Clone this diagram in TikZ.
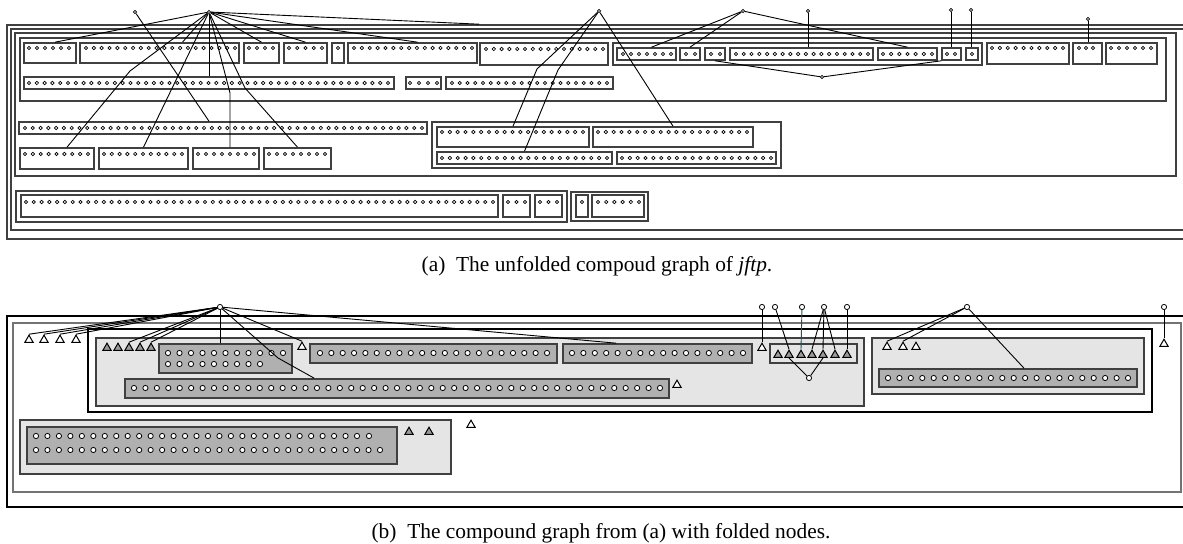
\documentclass[tikz,border=0pt]{standalone}
\usepackage{fontspec}
\setmainfont{Liberation Serif}
\usetikzlibrary{positioning, fit, calc, shapes.geometric}

\definecolor{edgeteal}{RGB}{20,90,90}

% a compound box, spanned by two corners
\newcommand{\grpbox}[6][]{%
  \node[grp, #1, fit={(#3,#4) (#5,#6)}] (#2) {};}
% a row of leaf vertices: name, first x, last x, y, count
\newcommand{\vrow}[6][]{%
  \pgfmathsetmacro{\vgap}{(#4-#3)/max(#6-1,1)}%
  \foreach \k in {1,...,#6}
    \node[vtx, #1] (#2-\k) at ({#3+\vgap*(\k-1)}, #5) {};}

\begin{document}
\begin{tikzpicture}[x=0.5pt, y=-0.5pt,
  grp/.style={draw=black!75, line width=0.8pt, inner sep=0pt},
  light/.style={fill=black!10},
  fold/.style={fill=black!31},
  vtx/.style={circle, draw, fill=white, line width=0.35pt, inner sep=0pt, minimum size=1.7pt},
  bvtx/.style={vtx, minimum size=2.6pt, line width=0.4pt},
  tri/.style={regular polygon, regular polygon sides=3, draw, fill=white,
              line width=0.5pt, inner sep=0pt, minimum size=4.8pt},
  ftri/.style={tri, fill=black!40},
  edge/.style={line width=0.45pt},
  captext/.style={font=\fontsize{10.7}{12}\selectfont},
]
\useasboundingbox (0,0) rectangle (1183,544);

%% (a) unfolded graph
\grpbox{B0}{7}{25}{1195}{239}
\grpbox{B1}{11}{29}{1195}{230}
\grpbox{B2}{15}{33}{1176}{176}
\grpbox{B3}{20}{38}{1166}{101}

% first row
\grpbox{a1}{24}{43}{76}{63}      \vrow{a1}{29}{69}{48}{6}
\grpbox{a2}{80}{43}{239}{63}     \vrow{a2}{86}{235}{48}{20}
\grpbox{a3}{244}{43}{279}{63}    \vrow{a3}{249}{273}{48}{4}
\grpbox{a4}{284}{43}{327}{63}    \vrow{a4}{289}{322}{48}{5}
\grpbox{a5}{332}{43}{344}{63}    \vrow{a5}{338}{338}{48}{1}
\grpbox{a6}{348}{43}{477}{63}    \vrow{a6}{354}{472}{48}{16}
\grpbox{a7}{480}{43}{608}{65}    \vrow{a7}{486}{603}{49}{16}
\grpbox{G1}{613}{43}{982}{65}
\grpbox{g1}{617}{48}{676}{60}    \vrow{g1}{623}{671}{54}{7}
\grpbox{g2}{680}{48}{700}{60}    \vrow{g2}{686}{695}{54}{2}
\grpbox{g3}{705}{48}{725}{60}    \vrow{g3}{711}{720}{54}{2}
\grpbox{g4}{730}{48}{873}{60}    \vrow{g4}{736}{868}{54}{18}
\grpbox{g5}{878}{48}{937}{60}    \vrow{g5}{883}{932}{54}{7}
\grpbox{g6}{942}{48}{961}{60}    \vrow{g6}{947}{955}{54}{2}
\grpbox{g7}{966}{48}{978}{60}    \vrow{g7}{972}{972}{54}{1}
\grpbox{a8}{987}{43}{1069}{64}   \vrow{a8}{992}{1063}{48}{10}
\grpbox{a9}{1073}{43}{1102}{64}  \vrow{a9}{1079}{1093}{48}{3}
\grpbox{a10}{1106}{43}{1157}{64} \vrow{a10}{1111}{1151}{48}{6}

% second row
\grpbox{r2a}{24}{77}{394}{89}    \vrow{r2a}{29}{388}{83}{47}
\grpbox{r2b}{406}{77}{441}{89}   \vrow{r2b}{410}{437}{83}{4}
\grpbox{r2c}{446}{77}{613}{89}   \vrow{r2c}{452}{607}{83}{21}

% middle rows
\grpbox{m1}{19}{122}{427}{134}   \vrow{m1}{25}{422}{128}{52}
\grpbox{m2a}{20}{148}{94}{169}   \vrow{m2a}{25}{88}{154}{9}
\grpbox{m2b}{99}{148}{188}{169}  \vrow{m2b}{104}{182}{154}{11}
\grpbox{m2c}{193}{148}{259}{169} \vrow{m2c}{198}{254}{154}{8}
\grpbox{m2d}{264}{148}{331}{169} \vrow{m2d}{269}{325}{154}{8}
\grpbox{G2}{432}{122}{781}{168}
\grpbox{G2a}{437}{127}{589}{147} \vrow{G2a}{442}{583}{132}{19}
\grpbox{G2b}{593}{127}{753}{147} \vrow{G2b}{598}{747}{132}{20}
\grpbox{G2c}{437}{152}{612}{164} \vrow{G2c}{442}{607}{158}{22}
\grpbox{G2d}{617}{152}{776}{164} \vrow{G2d}{622}{771}{158}{20}

% bottom row
\grpbox{G3}{16}{191}{567}{222}
\grpbox{G3a}{21}{195}{498}{217}  \vrow{G3a}{26}{493}{202}{61}
\grpbox{G3b}{503}{195}{530}{217} \vrow{G3b}{508}{525}{202}{3}
\grpbox{G3c}{535}{195}{562}{217} \vrow{G3c}{540}{557}{202}{3}
\grpbox{G4}{571}{192}{648}{221}
\grpbox{G4a}{576}{195}{588}{217} \vrow{G4a}{582}{582}{202}{1}
\grpbox{G4b}{592}{195}{644}{217} \vrow{G4b}{598}{639}{202}{6}

% outside vertices
\node[vtx] (A) at (209,12) {};
\node[vtx] (B) at (135,12) {};
\node[vtx] (C) at (599,11) {};
\node[vtx] (D) at (743,11) {};
\node[vtx] (E) at (808,11) {};
\node[vtx] (F) at (822,77) {};
\node[vtx] (G) at (951,10) {};
\node[vtx] (H) at (971,10) {};
\node[vtx] (I) at (1088,19) {};

\draw[edge] (A) -- ($(a1.north)+(5,0)$);
\draw[edge] (A) -- ($(a2.north)+(23,0)$);
\draw[edge] (A) -- (A |- r2a.north);
\draw[edge] (A) -- (a3.north);
\draw[edge] (A) -- (a4.north);
\draw[edge] (A) -- ($(a6.north)+(5,0)$);
\draw[edge] (A) -- (a7.north west |- B0.north);
\draw[edge] (A) -- (130,71) -- ($(m2a.north)+(10,0)$);
\draw[edge] (A) -- (m2b.north);
\draw[edge] (A) -- (230,93) -- ($(m2c.north)+(4,0)$);
\draw[edge] (A) -- (245,88) -- (m2d.north);
\draw[edge] (B) -- (A |- m1.north);
\draw[edge] (C) -- (537,69) -- (G2a.north);
\draw[edge] (C) -- (558,70) -- (G2c.north);
\draw[edge] (C) -- (G2b.north);
\draw[edge] (D) -- ($(g1.north)+(5,0)$);
\draw[edge] (D) -- (g2.north);
\draw[edge] (D) -- (g5.north);
\draw[edge] (E) -- (E |- g4.north);
\draw[edge] (F) -- (g3.south);
\draw[edge] (F) -- (g6.south west);
\draw[edge] (G) -- (G |- g6.north);
\draw[edge] (H) -- (H |- g7.north);
\draw[edge] (I) -- (I |- a9.north);

\node[captext] (capa) at (597,266) {(a)\enspace The unfolded compoud graph of \emph{jftp}.};

%% (b) folded graph
\grpbox[draw=black, line width=0.55pt]{P0}{7}{316}{1195}{507}
\grpbox[draw=black!55]{P1}{13}{323}{1181}{492}
\grpbox[draw=black, line width=0.55pt]{P2}{88}{329}{1152}{412}
\grpbox[light]{P3}{96}{338}{864}{406}
\grpbox[fold]{D1}{159}{344}{292}{373}
\vrow[bvtx]{D1r}{168}{283}{353}{11}
\vrow[bvtx]{D1s}{168}{260}{364}{9}
\grpbox[fold]{D2}{310}{344}{557}{363}  \vrow[bvtx]{D2}{320}{547}{353}{21}
\grpbox[fold]{D3}{563}{344}{752}{363}  \vrow[bvtx]{D3}{572}{743}{353}{16}
\grpbox[light]{L1}{770}{344}{857}{363}
\grpbox[fold]{D4}{125}{379}{669}{398}  \vrow[bvtx]{D4}{134}{660}{388}{47}
\grpbox[light]{P4}{872}{338}{1144}{394}
\grpbox[fold]{D5}{879}{369}{1137}{387} \vrow[bvtx]{D5}{888}{1128}{378}{22}
\grpbox[light]{P5}{20}{420}{451}{474}
\grpbox[fold]{D6}{27}{427}{397}{464}
\vrow[bvtx]{D6r}{36}{357}{436}{29}
\node[bvtx] (D6x) at (369,436) {};
\vrow[bvtx]{D6s}{36}{380}{450}{31}

% folded leaves
\foreach \n/\x in {1/29,2/44,3/60,4/76} \node[tri] (lt\n) at (\x,340) {};
\foreach \n/\x in {1/107,2/118,3/129,4/140,5/151} \node[ftri] (gt\n) at (\x,348) {};
\foreach \n/\x in {1/778,2/789,3/801,4/812,5/823,6/835,7/847} \node[ftri] (ft\n) at (\x,355) {};
\foreach \n/\x in {1/887,2/903,3/916} \node[tri] (rt\n) at (\x,347) {};
\node[tri] (ot1) at (302,347) {};
\node[tri] (ot2) at (762,348) {};
\node[tri] (ot3) at (677,385) {};
\node[tri] (ot4) at (1164,344) {};
\node[tri] (ot5) at (471,425) {};
\node[ftri] (pt1) at (409,432) {};
\node[ftri] (pt2) at (429,432) {};

% outside vertices
\node[bvtx] (V) at (220,307) {};
\node[bvtx] (V2) at (762,307) {};
\node[bvtx] (V3) at (775,307) {};
\node[bvtx] (V4) at (802,307) {};
\node[bvtx] (V5) at (824,307) {};
\node[bvtx] (V6) at (847,307) {};
\node[bvtx] (W) at (967,307) {};
\node[bvtx] (X) at (1164,307) {};
\node[bvtx] (F2) at (809,378) {};

\foreach \n in {1,...,4} \draw[edge] (V) -- (lt\n.north);
\foreach \n in {3,4,5} \draw[edge] (V) -- (gt\n.north);
\draw[edge] (V) -- (V |- D1.north);
\draw[edge] (V) -- (278,358) -- ($(D4.north west)+(190,0)$);
\draw[edge] (V) -- (ot1.north);
\draw[edge] (V) -- ($(D3.north west)+(54,0)$);
\draw[edge] (V2) -- (ot2.north);
\draw[edge] (V3) -- (ft2.north);
\draw[edge, edgeteal] (V4) -- (ft3.north);
\foreach \n in {4,5,6} \draw[edge] (V5) -- (ft\n.north);
\draw[edge] (V6) -- (ft7.north);
\draw[edge] (F2) -- (ft2.south);
\draw[edge] (F2) -- (ft5.south);
\draw[edge] (W) -- (rt1.north);
\draw[edge] (W) -- (rt2.north);
\draw[edge] (W) -- ($(D5.north)+(16,0)$);
\draw[edge] (X) -- (ot4.north);

\node[captext] (capb) at (601,533) {(b)\enspace The compound graph from (a) with folded nodes.};
\end{tikzpicture}
\end{document}
